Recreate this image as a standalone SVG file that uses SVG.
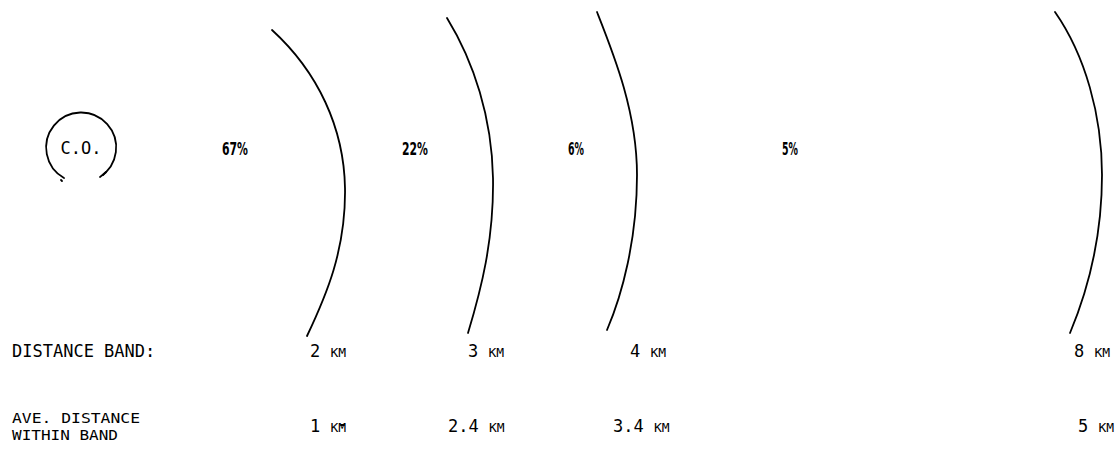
<svg xmlns="http://www.w3.org/2000/svg" width="1115" height="454" viewBox="0 0 1115 454">
<style>
.t{font-family:"DejaVu Sans Mono","Liberation Mono",monospace;font-size:17px;fill:#000}
.s{font-size:14px}
.p{font-family:"DejaVu Sans Condensed","DejaVu Sans",sans-serif;font-size:17px;font-weight:bold;fill:#000}
.k{font-size:13px}
.c{fill:none;stroke:#000;stroke-width:1.8;stroke-linecap:round}
</style>
<rect width="1115" height="454" fill="#fff"/>
<g id="co">
<path class="c" d="M64 178 A35 35 0 1 1 100 177" stroke-width="1.4"/>
<path class="c" d="M61 180 L62 181 M103 175 L106 172" stroke-width="1.4"/>
<text class="t" x="81" y="154" text-anchor="middle" font-size="16">C.O.</text>
</g>
<g id="connectors">
<path class="c" d="M272 30 C318 72 344 128 345 188 C346 250 326 296 307 336"/>
<path class="c" d="M447 18 C474 62 492 118 493 178 C494 240 481 290 468 333"/>
<path class="c" d="M597 12 C614 55 637 112 637 175 C637 240 622 295 607 330"/>
<path class="c" d="M1055 12 C1085 55 1102 115 1102 175 C1102 240 1088 290 1070 333"/>
</g>
<g id="bands">
<text class="p" x="222" y="155" textLength="26" lengthAdjust="spacingAndGlyphs">67%</text>
<text class="p" x="402" y="155" textLength="26" lengthAdjust="spacingAndGlyphs">22%</text>
<text class="p" x="568" y="155" textLength="16" lengthAdjust="spacingAndGlyphs">6%</text>
<text class="p" x="782" y="155" textLength="16" lengthAdjust="spacingAndGlyphs">5%</text>
</g>
<g id="row1">
<text class="t" x="12" y="357">DISTANCE BAND:</text>
<text class="t" x="310" y="357">2 <tspan class="k">KM</tspan></text>
<text class="t" x="468" y="357">3 <tspan class="k">KM</tspan></text>
<text class="t" x="630" y="357">4 <tspan class="k">KM</tspan></text>
<text class="t" x="1074" y="357">8 <tspan class="k">KM</tspan></text>
</g>
<g id="row2">
<text class="t s" x="12" y="423" textLength="128" lengthAdjust="spacingAndGlyphs">AVE. DISTANCE</text>
<text class="t s" x="12" y="440" textLength="106" lengthAdjust="spacingAndGlyphs">WITHIN BAND</text>
<text class="t" x="310" y="432">1 <tspan class="k">KM</tspan></text>
<path class="c" d="M341 425 L344 425" stroke-width="1.2"/>
<text class="t" x="448" y="432">2.4 <tspan class="k">KM</tspan></text>
<text class="t" x="613" y="432">3.4 <tspan class="k">KM</tspan></text>
<text class="t" x="1078" y="432">5 <tspan class="k">KM</tspan></text>
</g>
</svg>
